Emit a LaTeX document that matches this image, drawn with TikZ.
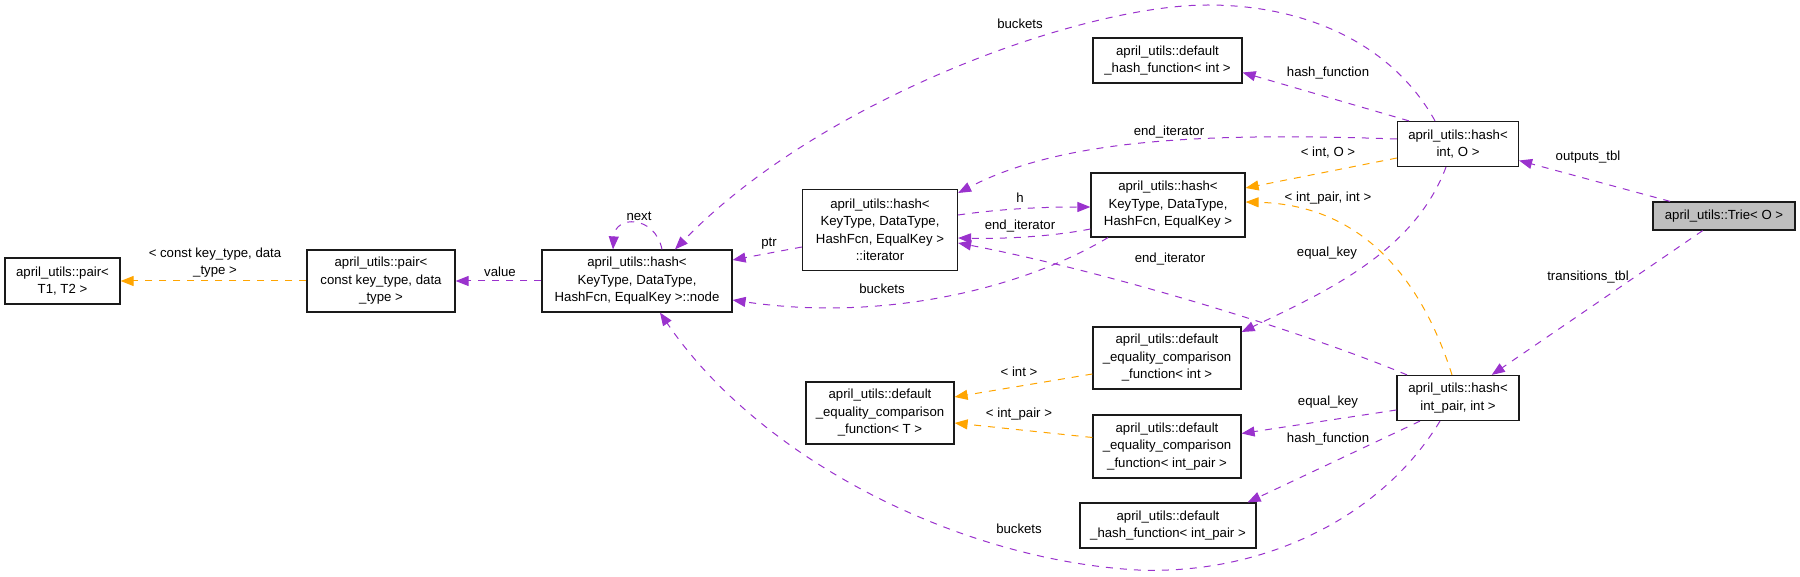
\documentclass[tikz,border=0pt]{standalone}
\usepackage{fontspec}
\setsansfont{Liberation Sans}
\usetikzlibrary{arrows.meta,calc}
\definecolor{UseInk}{HTML}{9A32CD}
\definecolor{TmplInk}{HTML}{FFA500}
\definecolor{BoxInk}{HTML}{1A1A1A}
\definecolor{FocusFill}{HTML}{BFBFBF}
\tikzset{
  every node/.style={font=\sffamily\fontsize{6.6}{8.75}\selectfont, text=black},
  classbox/.style={draw=BoxInk, line width=0.6pt, fill=white, align=center, inner sep=0pt},
  focusbox/.style={classbox, fill=FocusFill},
  usage/.style={-{Triangle[length=6.5pt,width=5pt]}, draw=UseInk, line width=0.5pt, dash pattern=on 3.5pt off 3.5pt},
  tmpl/.style={usage, draw=TmplInk},
  edgelabel/.style={align=center, inner sep=0pt},
}

\begin{document}
\begin{tikzpicture}[x=0.5pt,y=-0.5pt]
  \useasboundingbox (0,0) rectangle (1800,577);
  % classes, one unit = one pixel of the 1800 x 577 picture
  \node[focusbox, minimum width=71pt, minimum height=14pt] (trie) at (1724,216) {april\_utils::Trie< O >};
  \node[classbox, minimum width=60.5pt, minimum height=22.5pt] (hashio) at (1458,144) {april\_utils::hash<\\int, O >};
  \node[classbox, minimum width=61pt, minimum height=22.5pt] (haship) at (1458,398) {april\_utils::hash<\\int\_pair, int >};
  \node[classbox, minimum width=77pt, minimum height=32pt] (hashkt) at (1168,205) {april\_utils::hash<\\KeyType, DataType,\\HashFcn, EqualKey >};
  \node[classbox, minimum width=77.5pt, minimum height=40.5pt] (iter) at (880,230) {april\_utils::hash<\\KeyType, DataType,\\HashFcn, EqualKey >\\::iterator};
  \node[classbox, minimum width=95pt, minimum height=31pt] (hnode) at (637,281) {april\_utils::hash<\\KeyType, DataType,\\HashFcn, EqualKey >::node};
  \node[classbox, minimum width=74pt, minimum height=31pt] (pairc) at (381,281) {april\_utils::pair<\\const key\_type, data\\\_type >};
  \node[classbox, minimum width=57.5pt, minimum height=23pt] (pairt) at (62.5,281) {april\_utils::pair<\\T1, T2 >};
  \node[classbox, minimum width=74.5pt, minimum height=22.5pt] (dhfint) at (1167.5,60.5) {april\_utils::default\\\_hash\_function< int >};
  \node[classbox, minimum width=88pt, minimum height=22.5pt] (dhfip) at (1168,525.5) {april\_utils::default\\\_hash\_function< int\_pair >};
  \node[classbox, minimum width=74pt, minimum height=31pt] (eqint) at (1167,358) {april\_utils::default\\\_equality\_comparison\\\_function< int >};
  \node[classbox, minimum width=74pt, minimum height=31.5pt] (eqip) at (1167,446.5) {april\_utils::default\\\_equality\_comparison\\\_function< int\_pair >};
  \node[classbox, minimum width=74pt, minimum height=31pt] (eqt) at (880,413) {april\_utils::default\\\_equality\_comparison\\\_function< T >};

  % usage edges
  \draw[usage] (trie) -- (hashio);
  \draw[usage] (trie) -- (haship);
  \draw[usage] ($(hashio.north)+(-49,0)$) -- ($(dhfint.east)+(0,12)$);
  \draw[usage] ($(hashio.north)+(-23,0)$) .. controls (1390,40) and (1300,5) .. (1208,5)
    .. controls (1080,5) and (820,100) .. ($(hnode.north)+(38,0)$);
  \draw[usage] ($(hashio.west)+(0,-5)$) .. controls (1200,132) and (1060,140) .. ($(iter.east)+(0,-37)$);
  \draw[usage] ($(hashio.south)+(-12,0)$) .. controls (1415,250) and (1330,290) .. ($(eqint.east)+(0,-26)$);
  \draw[usage] ($(haship.north)+(-51,0)$) .. controls (1300,330) and (1100,270) .. ($(iter.east)+(0,13)$);
  \draw[usage] ($(hashkt.west)+(0,24)$) .. controls (1050,237) and (1000,239) .. ($(iter.east)+(0,8)$);
  \draw[usage] ($(iter.east)+(0,-15)$) .. controls (1000,209) and (1040,207) .. ($(hashkt.west)+(0,2)$);
  \draw[usage] ($(hashkt.south)+(-60,0)$) .. controls (1020,290) and (880,322) .. ($(hnode.east)+(0,19)$);
  \draw[usage] ($(iter.west)+(0,17)$) -- ($(hnode.east)+(0,-21)$);
  \draw[usage] (hnode) -- (pairc);
  \draw[usage] ($(hnode.north)+(25,0)$) .. controls (655,215) and (615,215) .. ($(hnode.north)+(-24,0)$);
  \draw[usage] ($(haship.south)+(-18,0)$) .. controls (1380,520) and (1260,575) .. (1138,570)
    .. controls (960,560) and (760,460) .. ($(hnode.south)+(23,0)$);
  \draw[usage] ($(haship.west)+(0,12)$) -- ($(eqip.east)+(0,-13)$);
  \draw[usage] ($(haship.south)+(-38,0)$) -- ($(dhfip.north east)+(-9,0)$);

  % template edges
  \draw[tmpl] ($(hashio.west)+(0,14)$) -- ($(hashkt.east)+(0,-17)$);
  \draw[tmpl] ($(haship.north)+(-6,0)$) .. controls (1425,290) and (1370,205) .. ($(hashkt.east)+(0,-3)$);
  \draw[tmpl] (pairc) -- (pairt);
  \draw[tmpl] ($(eqint.west)+(0,16)$) -- ($(eqt.east)+(0,-16)$);
  \draw[tmpl] ($(eqip.west)+(0,-9)$) -- ($(eqt.east)+(0,10)$);

  % edge labels
  \node[edgelabel] (lOutputs) at (1588,157) {outputs\_tbl};
  \node[edgelabel] (lTransitions) at (1588,277) {transitions\_tbl};
  \node[edgelabel] (lHashFnTop) at (1328,73) {hash\_function};
  \node[edgelabel] (lBucketsTop) at (1020,24) {buckets};
  \node[edgelabel] (lEndIterTop) at (1169,132) {end\_iterator};
  \node[edgelabel] (lIntO) at (1328,153) {< int, O >};
  \node[edgelabel] (lIntPairInt) at (1328,198) {< int\_pair, int >};
  \node[edgelabel] (lEqKeyTop) at (1327,253) {equal\_key};
  \node[edgelabel] (lEndIterLow) at (1170,259) {end\_iterator};
  \node[edgelabel] (lEndIterMid) at (1020,226) {end\_iterator};
  \node[edgelabel] (lH) at (1020,198) {h};
  \node[edgelabel] (lBucketsMid) at (882,289) {buckets};
  \node[edgelabel] (lPtr) at (769,244) {ptr};
  \node[edgelabel] (lValue) at (500,272) {value};
  \node[edgelabel] (lPair) at (215,262.5) {< const key\_type, data\\\_type >};
  \node[edgelabel] (lNext) at (639,216) {next};
  \node[edgelabel] (lBucketsLow) at (1019,529) {buckets};
  \node[edgelabel] (lEqKeyLow) at (1328,402) {equal\_key};
  \node[edgelabel] (lHashFnLow) at (1328,439) {hash\_function};
  \node[edgelabel] (lInt) at (1019,372) {< int >};
  \node[edgelabel] (lIntPair) at (1019,414) {< int\_pair >};
\end{tikzpicture}
\end{document}
